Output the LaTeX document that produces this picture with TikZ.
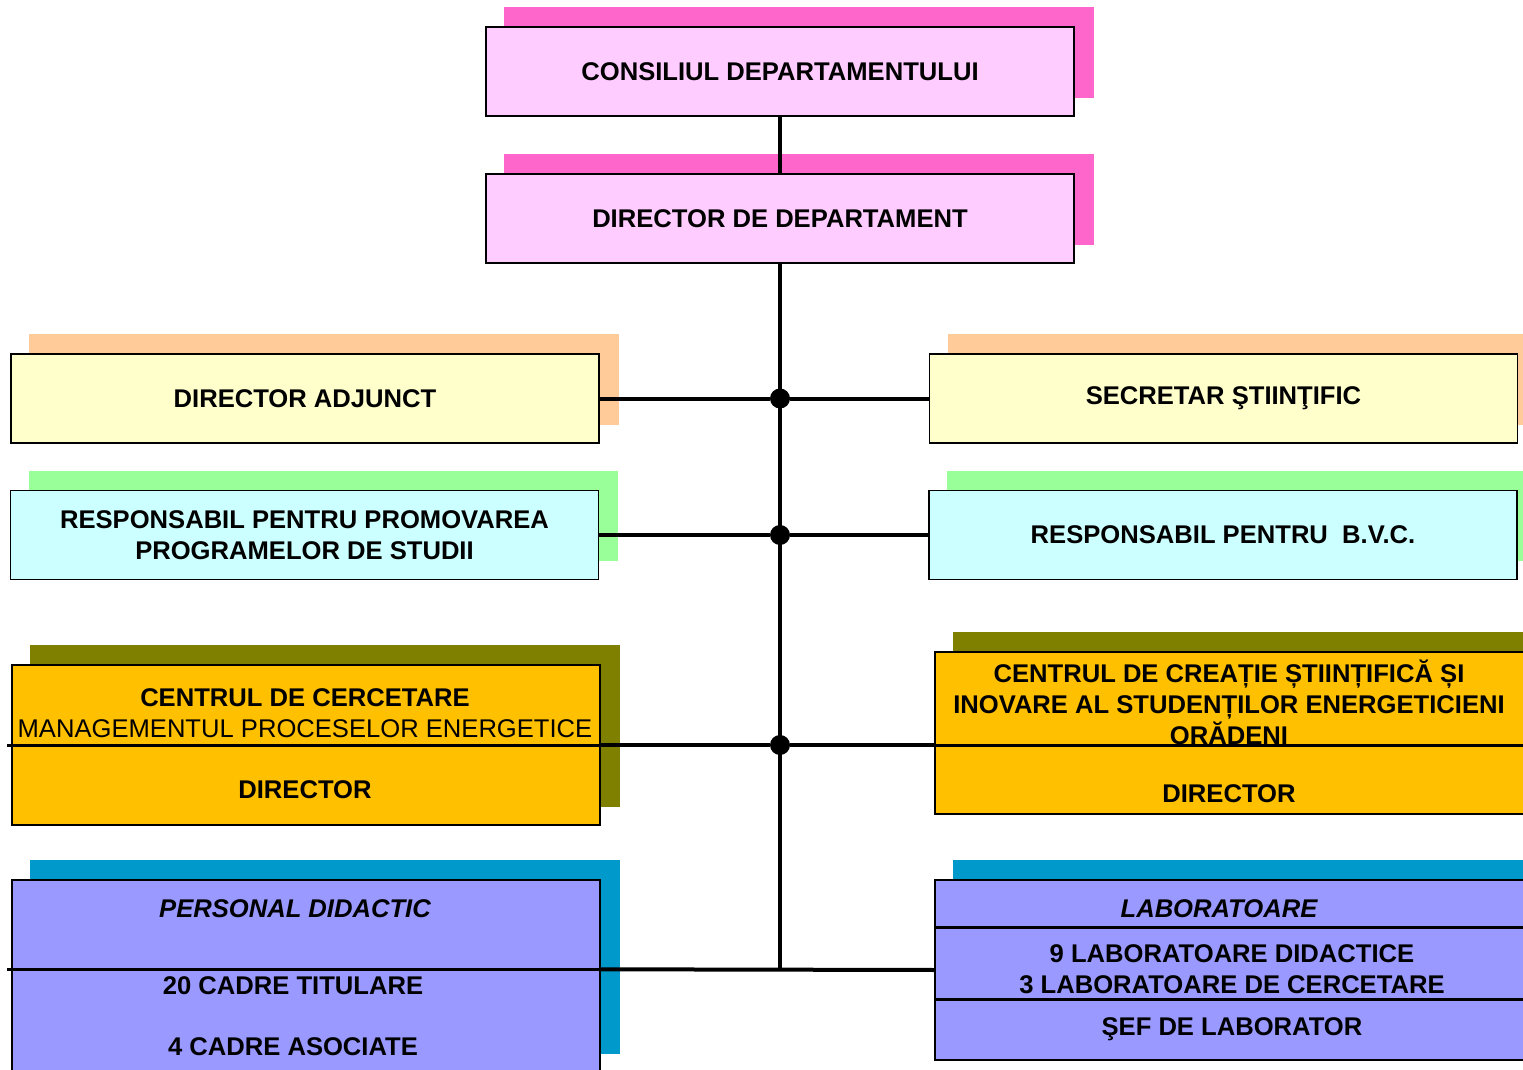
\documentclass[tikz,border=0pt]{standalone}
\usepackage{fontspec}
\setmainfont{Liberation Sans}
\usepackage{tikz}
\usetikzlibrary{backgrounds}
\definecolor{pinkshade}{HTML}{FF66CC}
\definecolor{pinkfill}{HTML}{FFCCFF}
\definecolor{peachshade}{HTML}{FFCC99}
\definecolor{creamfill}{HTML}{FFFFCC}
\definecolor{mintshade}{HTML}{99FF99}
\definecolor{aquafill}{HTML}{CCFFFF}
\definecolor{oliveshade}{HTML}{808000}
\definecolor{amberfill}{HTML}{FFC000}
\definecolor{blueshade}{HTML}{0099CC}
\definecolor{lavenderfill}{HTML}{9999FF}

\begin{document}
\begin{tikzpicture}[x=0.5pt,y=0.5pt,yscale=-1,xscale=1,
  box/.style={draw, line width=0.7pt, inner sep=0pt, align=center, minimum width=294pt, minimum height=44.5pt, font=\fontsize{12.8}{15.5}\selectfont\bfseries},
  txt/.style={inner sep=0pt, align=center, font=\fontsize{12.8}{15.5}\selectfont\bfseries},
  conn/.style={line width=2pt},
  divider/.style={line width=1.5pt},
  dot/.style={circle, fill=black, inner sep=0pt, minimum size=10pt}]
\useasboundingbox (0,0) rectangle (1523,1070);

%Shape: Rectangle [top boxes]
\node (cons) at (780,71.5) [box, fill=pinkfill] {CONSILIUL DEPARTAMENTULUI};
\node (dir) at (780,218.5) [box, fill=pinkfill] {DIRECTOR DE DEPARTAMENT};

%Shape: Rectangle [left column]
\node (adj) at (305,398.5) [box, fill=creamfill] {DIRECTOR ADJUNCT};
\node (prom) at (304.5,535) [box, fill=aquafill] {RESPONSABIL PENTRU PROMOVAREA\\PROGRAMELOR DE STUDII};
\node (ccl) at (306,745) [box, fill=amberfill, minimum height=80pt] {};
\node (pd) at (306,976) [box, fill=lavenderfill, minimum height=96pt] {};

%Shape: Rectangle [right column]
\node (sec) at (1223.5,398.5) [box, fill=creamfill] {SECRETAR ŞTIINŢIFIC};
\node (bvc) at (1223,535) [box, fill=aquafill] {RESPONSABIL PENTRU\ \ B.V.C.};
\node (ccr) at (1229.5,733) [box, fill=amberfill, minimum width=294.5pt, minimum height=81pt] {};
\node (lab) at (1229.5,970) [box, fill=lavenderfill, minimum width=294.5pt, minimum height=90pt] {};

%Shape: Shadows
\begin{pgfonlayer}{background}
\foreach \n/\c in {cons/pinkshade, dir/pinkshade, adj/peachshade, sec/peachshade, prom/mintshade, bvc/mintshade, ccl/oliveshade, ccr/oliveshade, pd/blueshade, lab/blueshade}
  \fill[\c] ([shift={(19,-19)}]\n.south west) rectangle ([shift={(19,-19)}]\n.north east);
\end{pgfonlayer}

% Text Node
\node (cclhead) at (305,713.5) [txt] {CENTRUL DE CERCETARE\\{\mdseries MANAGEMENTUL PROCESELOR ENERGETICE}};
\node (ccldir) at (305,790) [txt] {DIRECTOR};
\node (ccrhead) at (1229,702) [txt] {CENTRUL DE CREAȚIE ȘTIINȚIFICĂ ȘI\\INOVARE AL STUDENȚILOR ENERGETICIENI\\ORĂDENI};
\node (ccrdir) at (1229,794) [txt] {DIRECTOR};
\node (pdhead) at (295,909) [txt] {\itshape PERSONAL DIDACTIC};
\node (pdtit) at (293,986) [txt] {20 CADRE TITULARE};
\node (pdaso) at (293,1047) [txt] {4 CADRE ASOCIATE};
\node (labhead) at (1219,909) [txt] {\itshape LABORATOARE};
\node (labnr) at (1232,969) [txt] {9 LABORATOARE DIDACTICE\\3 LABORATOARE DE CERCETARE};
\node (labsef) at (1232,1029) [txt] {ŞEF DE LABORATOR};

%Straight Lines [dividers]
\draw[divider] ([xshift=-2pt]ccl.west) -- (ccl.east);
\draw[divider] (ccr.west |- ccl.east) -- ([xshift=2pt]ccr.east |- ccl.east);
\draw[divider] ([xshift=-2pt,yshift=45pt]pd.north west) -- ([yshift=45pt]pd.north east);
\draw[divider] ([yshift=24pt]lab.north west) -- ([xshift=2pt,yshift=24pt]lab.north east);
\draw[divider] ([yshift=60pt]lab.north west) -- ([xshift=2pt,yshift=60pt]lab.north east);

%Straight Lines [spine]
\draw[conn] (cons.south) -- (dir.north);
\draw[conn] (dir.south) -- (dir.south |- lab.west);

% Junctions
\node (j1) at (dir.south |- adj.east) [dot] {};
\node (j2) at (dir.south |- bvc.west) [dot] {};
\node (j3) at (dir.south |- ccl.east) [dot] {};

%Straight Lines [branches]
\draw[conn] (adj.east) -- (j1) -- (sec.west);
\draw[conn] (prom.east) -- (j2) -- (bvc.west);
\draw[conn] (ccl.east) -- (j3) -- (ccr.west |- ccl.east);
\draw[conn] ([yshift=45pt]pd.north east) -- (lab.west);

\end{tikzpicture}
\end{document}
